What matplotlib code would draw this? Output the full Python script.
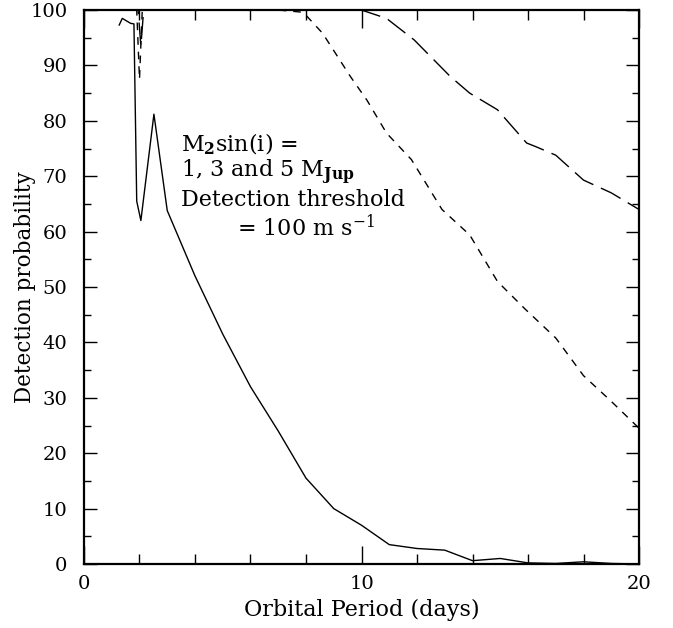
import numpy as np
import matplotlib.pyplot as plt
from matplotlib.ticker import MultipleLocator

plt.rcParams['font.family'] = 'DejaVu Serif'
plt.rcParams['mathtext.fontset'] = 'dejavuserif'

# detection probability vs orbital period for three companion masses
p1 = [1.27, 1.38, 1.68, 1.8, 1.9, 2.05, 2.52, 3.0, 4, 5, 6, 7, 8, 9, 10,
      11, 12, 13, 14, 15, 16, 17, 18, 19, 20]
m1 = [97.3, 98.5, 97.6, 97.5, 65.5, 62.0, 81.2, 63.8, 52, 41.5, 32, 24,
      15.5, 10, 7, 3.5, 2.8, 2.5, 0.6, 1.0, 0.2, 0.1, 0.4, 0.1, 0.0]

p3 = [1.3, 1.9, 2.0, 2.1, 3, 4, 5, 6, 7, 7.9, 8.6, 9.6, 10.2, 10.9, 11.8,
      12.9, 13.9, 14.9, 15.9, 17, 18, 18.95, 19.9, 20]
m3 = [100, 100, 87.5, 100, 100, 100, 100, 100, 100, 99.6, 95.8, 88, 83.7,
      77.8, 73, 64, 59.4, 51, 46, 40.8, 34, 29.6, 25, 24.5]

p5 = [1.3, 1.95, 2.05, 2.15, 3, 4, 5, 6, 7, 8, 9, 10, 10.9, 11.9, 13.2,
      13.9, 14.9, 15.95, 16.3, 17, 18, 19, 20]
m5 = [100, 100, 93.5, 100, 100, 100, 100, 100, 100, 100, 100, 100, 98.5,
      94.6, 88, 85, 82, 76, 75.3, 73.8, 69.3, 67, 64]

fig = plt.figure(figsize=(6.73, 6.28), dpi=100)
ax = fig.add_axes([0.1248, 0.1019, 0.8247, 0.8821])

ax.plot(p1, m1, color='black', lw=1.0)
ax.plot(p3, m3, color='black', lw=1.0, dashes=(5.5, 5.0))
ax.plot(p5, m5, color='black', lw=1.0, dashes=(16, 6))

ax.set_xlim(0, 20)
ax.set_ylim(0, 100)
ax.xaxis.set_major_locator(MultipleLocator(10))
ax.xaxis.set_minor_locator(MultipleLocator(2))
ax.yaxis.set_major_locator(MultipleLocator(10))
ax.yaxis.set_minor_locator(MultipleLocator(5))
ax.tick_params(which='both', direction='in', top=True, right=True,
               labelsize=14, width=1.0)
ax.tick_params(axis='x', which='major', length=13, pad=8)
ax.tick_params(axis='x', which='minor', length=7)
ax.tick_params(axis='y', which='major', length=9.5, pad=12)
ax.tick_params(axis='y', which='minor', length=5)
for s in ax.spines.values():
    s.set_linewidth(1.6)

ax.set_xlabel('Orbital Period (days)', fontsize=16, labelpad=4)
ax.set_ylabel('Detection probability', fontsize=15.5, va='center')
ax.yaxis.set_label_coords(-0.106, 0.5)

ax.text(3.5, 75.8, r'M$_{\mathbf{2}}$sin(i) =', fontsize=16, va='center')
ax.text(3.5, 70.7, r'1, 3 and 5 M$_{\mathbf{Jup}}$', fontsize=16, va='center')
ax.text(3.5, 65.8, 'Detection threshold', fontsize=16, va='center')
ax.text(5.5, 60.8, r'= 100 m s$^{-1}$', fontsize=16, va='center')

plt.savefig('out.png')
